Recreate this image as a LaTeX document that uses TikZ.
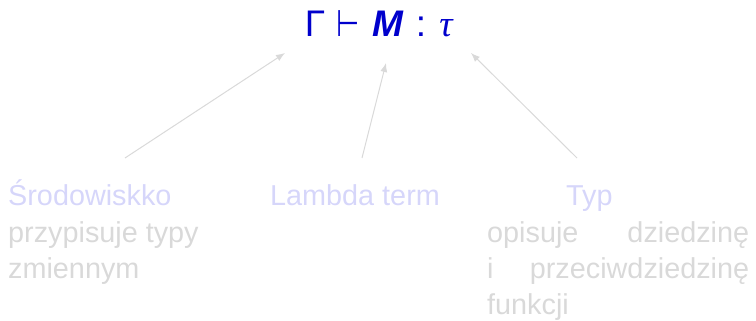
\documentclass[tikz,border=0pt]{standalone}
\usepackage{fontspec}
\setmainfont{Liberation Sans}
\newfontfamily\symfont{DejaVu Sans}
\newfontfamily\serifgreek{Liberation Serif}
\usetikzlibrary{arrows.meta}
\definecolor{titleblue}{RGB}{0,0,204}
\definecolor{fadeblue}{RGB}{214,214,250}
\definecolor{fadegray}{RGB}{217,217,217}
\begin{document}
\begin{tikzpicture}[x=1pt,y=-1pt,
  body/.style={inner sep=0pt, anchor=base west, font=\fontsize{28.8}{36}\selectfont},
  head/.style={body, text=fadeblue},
  desc/.style={body, text=fadegray},
  judg/.style={inner sep=0pt, anchor=base, text=titleblue, font=\fontsize{37}{44}\selectfont},
  arr/.style={draw=fadegray, line width=1pt, -{Latex[length=9pt,width=7pt]}}]
\useasboundingbox (0,0) rectangle (756,321);
% judgement
\node[judg] (gam) at (315,37) {Γ};
\node[judg] (vd) at (348,37) {\scalebox{0.72}[1]{\symfont ⊢}};
\node[judg] (mterm) at (388,37) {\bfseries\itshape M};
\node[judg] (colon) at (421,37) {:};
\node[judg] (tau) at (446,37) {\serifgreek\itshape τ};
% labels
\node[head] (env) at (8,205) {Środowiskko};
\node[head] (lam) at (270,205) {Lambda term};
\node[head] (typ) at (566,205) {Typ};
\node[desc] (envd1) at (8,242) {przypisuje typy};
\node[desc] (envd2) at (8,278) {zmiennym};
\node[desc] (typd1) at (487,242) {\hbox to 262pt{opisuje\hfill dziedzinę}};
\node[desc] (typd2) at (487,278) {\hbox to 262pt{i\hfill przeciwdziedzinę}};
\node[desc] (typd3) at (487,314) {funkcji};
% arrow ends
\coordinate (envA) at (125,158);
\coordinate (lamA) at (362,158);
\coordinate (typA) at (577,158);
\coordinate (gamT) at (285,53);
\coordinate (mT) at (386,63);
\coordinate (tauT) at (471,53);
\draw[arr] (envA) -- (gamT);
\draw[arr] (lamA) -- (mT);
\draw[arr] (typA) -- (tauT);
\end{tikzpicture}
\end{document}
